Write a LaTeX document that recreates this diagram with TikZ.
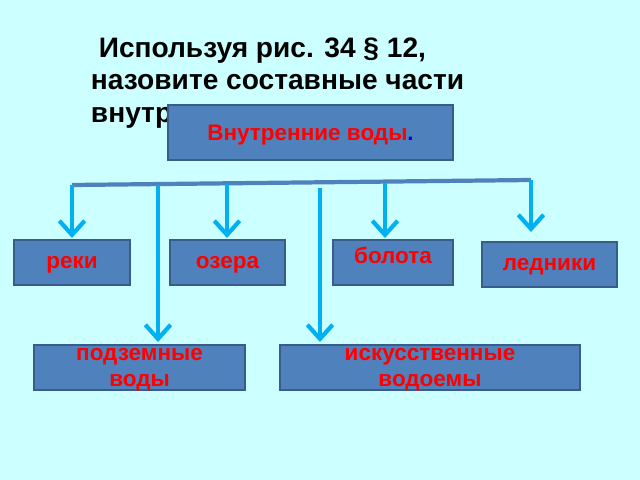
\documentclass[tikz,border=0pt]{standalone}
\usepackage{fontspec}
\setmainfont{Liberation Sans}
\usetikzlibrary{arrows.meta}
\definecolor{bg}{RGB}{204,255,255}
\definecolor{boxfill}{RGB}{79,129,189}
\definecolor{boxline}{RGB}{56,93,138}
\definecolor{arrowc}{RGB}{0,176,240}
\begin{document}
\begin{tikzpicture}[x=0.025cm, y=-0.025cm,
        every node/.style={font=\bfseries\fontsize{16}{18}\selectfont}]
    \tikzset{boxStyle/.style={draw=boxline, fill=boxfill, line width=1pt,
            text=red, align=center, inner sep=0pt, text depth=0pt}}
    \tikzset{arrowEdge/.style={draw=arrowc, line width=3pt,
            -{Straight Barb[length=10pt, width=18pt, line width=3pt]}}}
    \fill[bg] (0,0) rectangle (640,480);
    \useasboundingbox (0,0) rectangle (640,480);
    \node[anchor=north west, align=left, text=black,
        font=\bfseries\fontsize{20}{23}\selectfont] (title) at (86,33)
        {\ Используя рис. 34 § 12,\\назовите составные части\\внутренних вод.};
    \node[boxStyle, minimum width=7.125cm, minimum height=1.375cm] (main) at (310.5,132.5)
        {Внутренние воды\textcolor{blue}{.}};
    \coordinate (l) at (72,185);
    \coordinate (r) at (531,180);
    \draw[boxfill, line width=3pt] (l) -- (r);
    \node[boxStyle, minimum width=2.9cm, minimum height=1.125cm] (reki) at (72,262.5) {реки};
    \node[boxStyle, minimum width=2.875cm, minimum height=1.125cm] (ozera) at (227.5,262.5) {озера};
    \node[boxStyle, minimum width=3cm, minimum height=1.125cm] (bolota) at (393,262.5) {болота\\[-8pt]\mbox{}};
    \node[boxStyle, minimum width=3.375cm, minimum height=1.125cm] (ledniki) at (549.5,264.5) {ледники};
    \node[boxStyle, minimum width=5.275cm, minimum height=1.125cm] (podz) at (139.5,367.5) {подземные\\воды};
    \node[boxStyle, minimum width=7.5cm, minimum height=1.125cm] (isk) at (430,367.5) {искусственные\\водоемы};
    \coordinate (a1) at (72,185);
    \coordinate (a2) at (227,184);
    \coordinate (a3) at (385,183);
    \coordinate (a4) at (531,180);
    \coordinate (a5) at (158,185);
    \coordinate (a6) at (320,188);
    \foreach \from/\to/\len in {a1/reki/238, a2/ozera/238, a3/bolota/238, a4/ledniki/232}
        \draw[arrowEdge] (\from) -- (\from |- 0,\len);
    \foreach \from in {a5, a6}
        \draw[arrowEdge] (\from) -- (\from |- 0,342);
\end{tikzpicture}
\end{document}
